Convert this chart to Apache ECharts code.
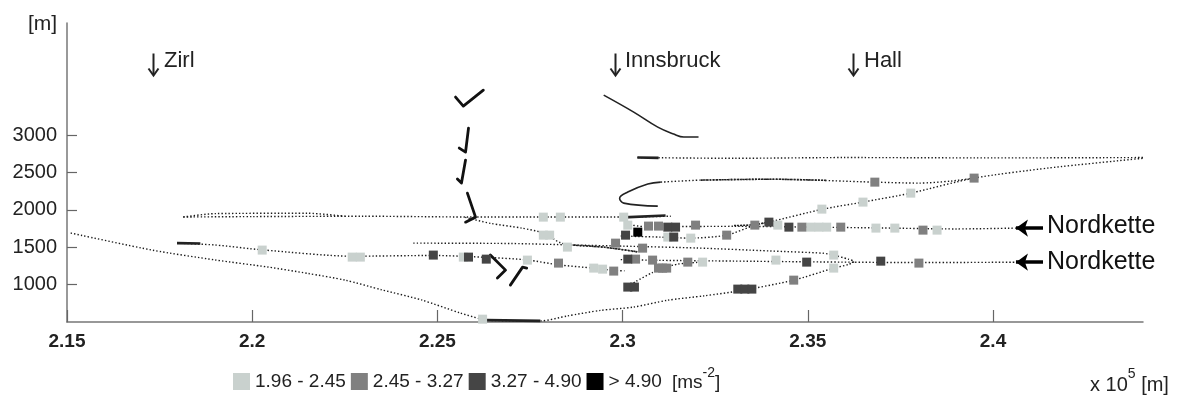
<!DOCTYPE html>
<html>
<head>
<meta charset="utf-8">
<script src="https://cdn.jsdelivr.net/npm/echarts@6/dist/echarts.min.js"></script>
<style>
  html, body { margin: 0; padding: 0; background: #fff; }
  #chart { width: 1182px; height: 396px; }
</style>
</head>
<body>
<div id="chart"></div>
<script>
  // axis ticks
  var xTicks = [2.15, 2.2, 2.25, 2.3, 2.35, 2.4];
  var yTicks = [1000, 1500, 2000, 2500, 3000];

  // class names (acceleration, ms^-2)
  var classNames = ['1.96 - 2.45', '2.45 - 3.27', '3.27 - 4.90', '> 4.90'];

  // flight tracks [x (x10^5 m), height (m)]
  var trackLow = [[2.151,1690],[2.1732,1460],[2.19,1330],[2.2043,1235],[2.215,1150],[2.2251,1060],[2.235,930],[2.2457,795],[2.2562,620],[2.2614,545],[2.265,520],[2.278,515],[2.285,580],[2.294,655],[2.303,700],[2.312,790],[2.322,850],[2.332,920],[2.3462,1060],[2.357,1221],[2.361,1270],[2.3625,1310],[2.361,1340],[2.357,1395]];
  var trackNordLow = [[2.2995,1335],[2.31,1325],[2.33,1315],[2.35,1305],[2.3625,1300],[2.38,1295],[2.4062,1300]];
  var trackNordHigh = [[2.302,1800],[2.306,1775],[2.33,1780],[2.35,1770],[2.37,1758],[2.39,1745],[2.4062,1756]];
  var trackWest = [[2.1797,1555],[2.19,1530],[2.2027,1465],[2.227,1380],[2.2489,1390],[2.2632,1365],[2.2743,1330],[2.2827,1265],[2.2922,1220],[2.2976,1190],[2.3005,1185]];
  var trackMid = [[2.2435,1555],[2.27,1550],[2.2868,1530],[2.30,1515],[2.32,1490],[2.34,1450],[2.3541,1420],[2.3573,1395]];
  var track1900 = [[2.1814,1905],[2.20,1910],[2.23,1915],[2.258,1905],[2.28,1905],[2.3003,1905],[2.313,1915]];
  var track1900b = [[2.1814,1905],[2.19,1950],[2.215,1955],[2.225,1915]];
  var trackDesc = [[2.2575,1900],[2.2643,1820],[2.2729,1755],[2.2786,1690],[2.2832,1560],[2.2868,1528],[2.2951,1500],[2.304,1435]];
  var trackBranch = [[2.3014,967],[2.3035,1040],[2.308,1160],[2.3108,1221],[2.315,1275],[2.321,1300]];
  var trackHall = [[2.2995,1650],[2.31,1636],[2.318,1622],[2.3281,1662],[2.3357,1796],[2.3395,1836],[2.3541,2010],[2.3649,2104],[2.3778,2224],[2.3949,2425],[2.415,2560],[2.4405,2690]];
  var track2400 = [[2.3103,2371],[2.3211,2398],[2.34,2410],[2.3681,2371],[2.38,2358],[2.3886,2385],[2.3949,2425]];
  var trackTop = [[2.304,2700],[2.33,2690],[2.36,2700],[2.40,2695],[2.4405,2700]];

  // solid strokes
  var solidInnsbruck = [[2.2949,3535],[2.303,3308],[2.3095,3107],[2.3138,3014],[2.3165,2974],[2.3205,2974]];
  var solidCurl = [[2.3095,2050],[2.3003,2090],[2.2992,2157],[2.3014,2238],[2.3068,2345],[2.3103,2371]];
  var thickParts = [
    [[2.2632,525],[2.2778,515]],
    [[2.304,2700],[2.3097,2695]],
    [[2.1797,1555],[2.186,1550]],
    [[2.3003,1900],[2.3116,1925]]
  ];
  var denseParts = [
    [[2.2868,1528],[2.2951,1500],[2.304,1440]],
    [[2.3211,2398],[2.34,2410],[2.355,2395]],
    [[2.3395,1836],[2.335,1800],[2.33,1790]]
  ];
  var barbs = [
    [[2.2549,3509],[2.2570,3388],[2.2624,3602]],
    [[2.2584,3094],[2.2576,2773],[2.2559,2827]],
    [[2.2576,2666],[2.2565,2358],[2.2554,2412]],
    [[2.2581,2224],[2.2603,1903],[2.2576,1836]],
    [[2.2643,1395],[2.2684,1194],[2.2662,1087]],
    [[2.2697,993],[2.2730,1234],[2.2741,1221]]
  ];

  // classified points
  var pointsLight = [[2.2027,1462],[2.2270,1368],[2.2292,1368],[2.2570,1368],[2.2743,1328],[2.2922,1221],[2.2946,1207],[2.2786,1903],[2.2832,1903],[2.3003,1903],[2.2786,1662],[2.2803,1662],[2.2851,1502],[2.3014,1796],[2.3122,1636],[2.3184,1622],[2.3216,1301],[2.2622,538],[2.3419,1796],[2.3508,1769],[2.3530,1769],[2.3551,1769],[2.3684,1756],[2.3735,1756],[2.3849,1729],[2.3538,2010],[2.3649,2104],[2.3778,2224],[2.3414,1328],[2.3570,1395],[2.3570,1221]];
  var pointsMedium = [[2.2827,1288],[2.2976,1181],[2.2981,1555],[2.3054,1488],[2.3035,1341],[2.3081,1328],[2.3097,1221],[2.3108,1221],[2.3119,1221],[2.3070,1783],[2.3097,1783],[2.3197,1796],[2.3357,1796],[2.3484,1769],[2.3589,1769],[2.3811,1729],[2.3281,1662],[2.3949,2425],[2.3681,2371],[2.3800,1288],[2.3462,1060],[2.3176,1301]];
  var pointsDark = [[2.2489,1395],[2.2584,1368],[2.2632,1341],[2.3008,1662],[2.3014,1341],[2.3014,967],[2.3032,967],[2.3122,1769],[2.3143,1769],[2.3395,1836],[2.3449,1769],[2.3138,1636],[2.3497,1301],[2.3697,1314],[2.3311,940],[2.3330,940],[2.3349,940]];
  var pointsBlack = [[2.3041,1702]];

  var font = 'Liberation Sans, Arial, Helvetica, sans-serif';
  var colors = ['#c9d1ce', '#808080', '#454545', '#000000'];

  var myChart = echarts.init(document.getElementById('chart'));

  var series = [];
  var dottedTracks = [trackLow, trackNordLow, trackNordHigh, trackWest, trackMid, track1900, track1900b,
    trackDesc, trackBranch, trackHall, track2400, trackTop];
  dottedTracks.forEach(function (t) {
    series.push({
      type: 'line', data: t, symbol: 'none', smooth: 0.25, silent: true, z: 2,
      lineStyle: { color: '#1a1a1a', width: 1.4, type: [1.4, 2.1] }
    });
  });
  [solidInnsbruck, solidCurl].forEach(function (t) {
    series.push({
      type: 'line', data: t, symbol: 'none', smooth: 0.4, silent: true, z: 3,
      lineStyle: { color: '#222', width: 1.6 }
    });
  });
  thickParts.forEach(function (t) {
    series.push({
      type: 'line', data: t, symbol: 'none', silent: true, z: 3,
      lineStyle: { color: '#222', width: 2.6 }
    });
  });
  denseParts.forEach(function (t) {
    series.push({
      type: 'line', data: t, symbol: 'none', smooth: 0.3, silent: true, z: 3,
      lineStyle: { color: '#222', width: 1.6, type: [2, 1] }
    });
  });
  barbs.forEach(function (t) {
    series.push({
      type: 'line', data: t, symbol: 'none', silent: true, z: 3,
      lineStyle: { color: '#111', width: 2.8, cap: 'round', join: 'round' }
    });
  });
  [pointsLight, pointsMedium, pointsDark, pointsBlack].forEach(function (p, i) {
    series.push({
      name: classNames[i], type: 'scatter', data: p, symbol: 'rect', symbolSize: 9,
      itemStyle: { color: colors[i], opacity: 1 }, z: 5
    });
  });
  // Nordkette arrows
  series.push({
    type: 'line', data: [], silent: true,
    markLine: {
      silent: true, animation: false,
      label: { show: false },
      lineStyle: { color: '#000', width: 3.5, type: 'solid' },
      symbolSize: [13, 12],
      data: [
        [{ coord: [2.4135, 1756], symbol: 'none' }, { coord: [2.4062, 1756], symbol: 'arrow' }],
        [{ coord: [2.4135, 1300], symbol: 'none' }, { coord: [2.4062, 1300], symbol: 'arrow' }]
      ]
    }
  });

  // town markers: down arrows drawn as small line shapes
  function downArrow(x) {
    return {
      type: 'group', left: x - 6, top: 51,
      children: [
        { type: 'line', shape: { x1: 6, y1: 0, x2: 6, y2: 21 }, style: { stroke: '#222', lineWidth: 2 } },
        { type: 'polyline', shape: { points: [[1, 15], [6, 22], [11, 15]] }, style: { stroke: '#222', lineWidth: 2, fill: null } }
      ]
    };
  }

  var option = {
    animation: false,
    backgroundColor: '#fff',
    textStyle: { fontFamily: font },
    grid: { left: 67, right: 39, top: 23, bottom: 74, containLabel: false },
    legend: {
      data: classNames,
      left: 233, top: 372,
      icon: 'rect',
      itemWidth: 17, itemHeight: 17, itemGap: 5,
      padding: 0,
      selectedMode: false,
      textStyle: { fontSize: 19, color: '#222', fontFamily: font }
    },
    xAxis: {
      type: 'value', min: 2.15, max: 2.4405,
      splitLine: { show: false },
      axisLine: { lineStyle: { color: '#777', width: 1.5 } },
      axisTick: { inside: true, length: 12, customValues: xTicks, lineStyle: { color: '#666', width: 1.2 } },
      axisLabel: {
        customValues: xTicks, margin: 10, fontSize: 19, fontWeight: 'bold', color: '#222',
        formatter: function (v) { return String(Math.round(v * 100) / 100); }
      }
    },
    yAxis: {
      type: 'value', min: 500, max: 4500,
      splitLine: { show: false },
      axisLine: { show: true, lineStyle: { color: '#777', width: 1.5 } },
      axisTick: { show: true, inside: true, length: 10, customValues: yTicks, lineStyle: { color: '#666', width: 1.2 } },
      axisLabel: {
        customValues: yTicks, margin: 10, fontSize: 20, color: '#222',
        formatter: function (v) { return String(v); }
      }
    },
    graphic: [
      { type: 'text', left: 28, top: 14, style: { text: '[m]', font: '21px ' + font, fill: '#222' } },
      downArrow(152),
      { type: 'text', left: 164, top: 50, style: { text: 'Zirl', font: '22px ' + font, fill: '#222' } },
      downArrow(614),
      { type: 'text', left: 625, top: 50, style: { text: 'Innsbruck', font: '22px ' + font, fill: '#222' } },
      downArrow(852),
      { type: 'text', left: 864, top: 50, style: { text: 'Hall', font: '22px ' + font, fill: '#222' } },
      { type: 'text', left: 1047, top: 214, style: { text: 'Nordkette', font: '25px ' + font, fill: '#111' } },
      { type: 'text', left: 1047, top: 250, style: { text: 'Nordkette', font: '25px ' + font, fill: '#111' } },
      {
        type: 'text', left: 672, top: 366,
        style: {
          text: '{a|[ms}{s|-2}{a|]}',
          rich: {
            a: { fontSize: 19, fontFamily: font, fill: '#222', verticalAlign: 'bottom', lineHeight: 26 },
            s: { fontSize: 14, fontFamily: font, fill: '#222', verticalAlign: 'top', lineHeight: 26 }
          }
        }
      },
      {
        type: 'text', left: 1090, top: 367,
        style: {
          text: '{a|x 10}{s|5}{a| [m]}',
          rich: {
            a: { fontSize: 20, fontFamily: font, fill: '#222', verticalAlign: 'bottom', lineHeight: 28 },
            s: { fontSize: 14, fontFamily: font, fill: '#222', verticalAlign: 'top', lineHeight: 28 }
          }
        }
      }
    ],
    series: series
  };
  myChart.setOption(option);
</script>
</body>
</html>
